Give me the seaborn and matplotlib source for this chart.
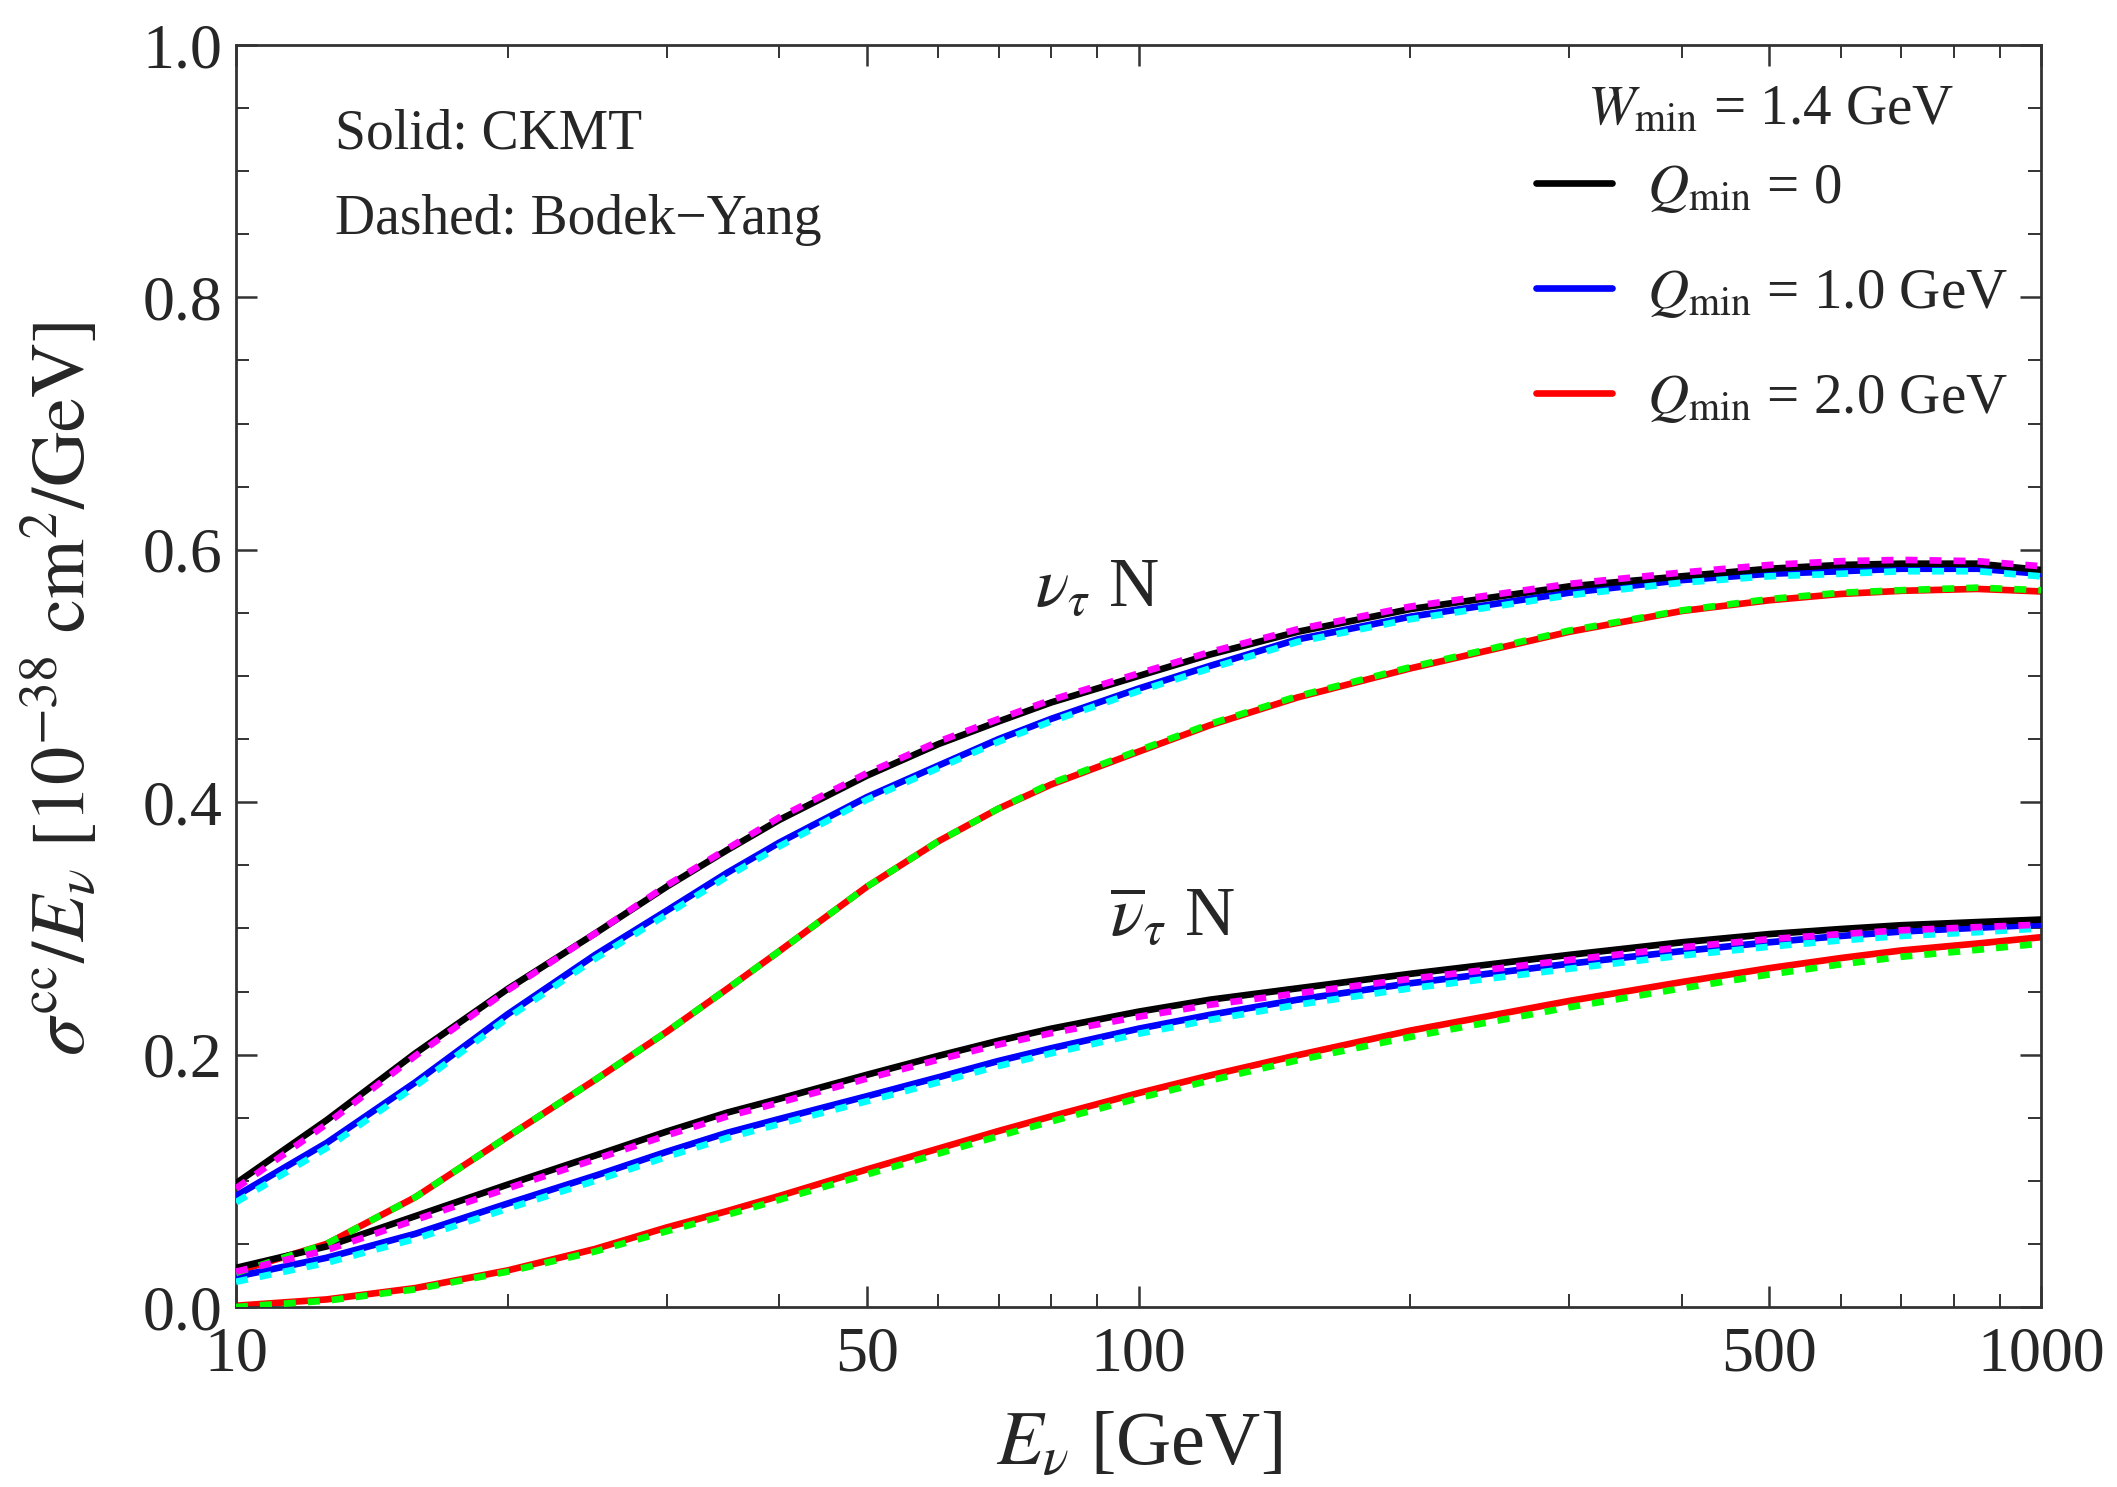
import numpy as np
import pandas as pd
import matplotlib
matplotlib.use("Agg")
import matplotlib.pyplot as plt
from matplotlib.lines import Line2D
from matplotlib.ticker import FixedLocator, NullFormatter
import seaborn as sns

# Neutrino energy grid [GeV]
energy = [10, 12.6, 15.8, 20, 25, 30, 35, 40, 50, 60, 70, 80, 100, 120, 150,
          200, 300, 400, 500, 600, 700, 850, 1000]

# sigma^cc / E_nu [1e-38 cm^2/GeV] -- CKMT structure functions (solid)
ckmt_nu_q0 = [0.098, 0.148, 0.201, 0.252, 0.296, 0.333, 0.362, 0.386, 0.421, 0.446, 0.464, 0.479,
              0.500, 0.517, 0.535, 0.553, 0.571, 0.579, 0.585, 0.588, 0.589, 0.589, 0.584]
ckmt_nu_q1 = [0.088, 0.130, 0.178, 0.232, 0.279, 0.314, 0.344, 0.368, 0.404, 0.429, 0.450, 0.466,
              0.490, 0.508, 0.529, 0.547, 0.566, 0.576, 0.581, 0.583, 0.585, 0.585, 0.581]
ckmt_nu_q2 = [0.028, 0.050, 0.087, 0.135, 0.180, 0.218, 0.252, 0.282, 0.333, 0.369, 0.395, 0.414,
              0.440, 0.461, 0.483, 0.506, 0.535, 0.5515, 0.560, 0.565, 0.5675, 0.569, 0.567]
ckmt_nub_q0 = [0.031, 0.048, 0.072, 0.097, 0.120, 0.139, 0.154, 0.165, 0.184, 0.199, 0.211, 0.2205,
               0.234, 0.2435, 0.2525, 0.264, 0.279, 0.289, 0.2955, 0.2995, 0.3025, 0.305, 0.307]
ckmt_nub_q1 = [0.024, 0.039, 0.058, 0.082, 0.104, 0.123, 0.138, 0.149, 0.167, 0.182, 0.195, 0.205,
               0.2205, 0.2315, 0.2435, 0.2565, 0.272, 0.282, 0.289, 0.294, 0.2975, 0.3005, 0.303]
ckmt_nub_q2 = [0.001, 0.006, 0.015, 0.029, 0.046, 0.063, 0.076, 0.088, 0.109, 0.1255, 0.1395, 0.151,
               0.1695, 0.1835, 0.1995, 0.219, 0.2425, 0.2575, 0.2685, 0.2765, 0.2825, 0.288, 0.293]

# Bodek-Yang structure functions (dashed)
by_nu_q0 = [0.094, 0.145, 0.199, 0.251, 0.296, 0.334, 0.363, 0.388, 0.423, 0.448, 0.466, 0.481,
            0.502, 0.519, 0.537, 0.555, 0.573, 0.582, 0.588, 0.591, 0.592, 0.591, 0.587]
by_nu_q1 = [0.083, 0.126, 0.175, 0.229, 0.276, 0.311, 0.341, 0.365, 0.402, 0.427, 0.448, 0.464,
            0.488, 0.506, 0.527, 0.545, 0.564, 0.574, 0.579, 0.581, 0.583, 0.583, 0.579]
by_nu_q2 = [0.027, 0.050, 0.087, 0.135, 0.180, 0.218, 0.252, 0.282, 0.333, 0.369, 0.395, 0.415,
            0.441, 0.462, 0.484, 0.507, 0.536, 0.552, 0.561, 0.566, 0.568, 0.570, 0.568]
by_nub_q0 = [0.028, 0.045, 0.069, 0.094, 0.117, 0.136, 0.151, 0.162, 0.181, 0.196, 0.208, 0.217,
             0.230, 0.2395, 0.2485, 0.260, 0.275, 0.285, 0.2915, 0.2955, 0.2985, 0.301, 0.303]
by_nub_q1 = [0.020, 0.035, 0.054, 0.078, 0.100, 0.119, 0.134, 0.145, 0.163, 0.178, 0.191, 0.201,
             0.2165, 0.2275, 0.2395, 0.2525, 0.268, 0.2785, 0.2855, 0.2905, 0.294, 0.297, 0.300]
by_nub_q2 = [0.000, 0.005, 0.014, 0.028, 0.044, 0.060, 0.073, 0.085, 0.105, 0.1215, 0.1355, 0.147,
             0.1655, 0.1795, 0.1955, 0.214, 0.2375, 0.2525, 0.2635, 0.2715, 0.2775, 0.283, 0.288]

q_labels = [r"$Q_{\rm min}$ = 0", r"$Q_{\rm min}$ = 1.0 GeV", r"$Q_{\rm min}$ = 2.0 GeV"]
solid_colors = ["#000000", "#0000ff", "#ff0000"]
dashed_colors = ["#ff00ff", "#00ffff", "#00ff00"]

sns.set_theme(style="ticks")
plt.rcParams["font.family"] = ["Liberation Serif", "DejaVu Serif"]
plt.rcParams["mathtext.fontset"] = "stix"
plt.rcParams["axes.linewidth"] = 1.0

fig = plt.figure(figsize=(2117 / 200, 1487 / 200), dpi=200)
ax = fig.add_axes([236 / 2117, 1 - 1307 / 1487, (2041 - 236) / 2117, (1307 - 45) / 1487])

lw = 2.4
solids = [ckmt_nu_q0, ckmt_nu_q1, ckmt_nu_q2, ckmt_nub_q0, ckmt_nub_q1, ckmt_nub_q2]
dashed = [by_nu_q0, by_nu_q1, by_nu_q2, by_nub_q0, by_nub_q1, by_nub_q2]

for i, ys in enumerate(solids):
    sns.lineplot(x=energy, y=ys, color=solid_colors[i % 3], lw=lw, ax=ax,
                 estimator=None, sort=False, zorder=2 + (2 - i % 3))
for i, ys in enumerate(dashed):
    sns.lineplot(x=energy, y=ys, color=dashed_colors[i % 3], lw=lw, ax=ax,
                 estimator=None, sort=False, zorder=5 + (2 - i % 3))
    ax.lines[-1].set_dashes((1.8, 1.8))

ax.set_xscale("log")
ax.set_xlim(10, 1000)
ax.set_ylim(0, 1.0)

ax.xaxis.set_major_locator(FixedLocator([10, 50, 100, 500, 1000]))
ax.set_xticklabels(["10", "50", "100", "500", "1000"])
ax.xaxis.set_minor_locator(FixedLocator([20, 30, 40, 60, 70, 80, 90, 200, 300, 400, 600, 700, 800, 900]))
ax.xaxis.set_minor_formatter(NullFormatter())
ax.set_yticks([0.0, 0.2, 0.4, 0.6, 0.8, 1.0])
ax.set_yticklabels(["0.0", "0.2", "0.4", "0.6", "0.8", "1.0"])
ax.yaxis.set_minor_locator(FixedLocator(np.arange(0.05, 1.0, 0.05)))

ax.tick_params(which="both", direction="in", top=True, right=True, color="#333333")
ax.tick_params(which="major", length=7.5, width=0.9, labelsize=23)
ax.tick_params(which="minor", length=4.8, width=0.7)
ax.tick_params(axis="y", which="major", pad=5)
ax.tick_params(axis="x", which="major", pad=7)
for s in ax.spines.values():
    s.set_color("#333333")
    s.set_visible(True)

ax.set_xlabel(r"$E_\nu$ [GeV]", fontsize=27.5, labelpad=10)
ax.set_ylabel(r"$\sigma^{\rm cc}/E_\nu\ [10^{-38}\ {\rm cm}^2/{\rm GeV}]$", fontsize=27.5, labelpad=7)
ax.yaxis.set_label_coords(-0.075, 0.49)

ax.text(0.055, 0.918, "Solid: CKMT", transform=ax.transAxes, fontsize=20, va="baseline")
ax.text(0.055, 0.850, "Dashed: Bodek\u2212Yang", transform=ax.transAxes, fontsize=20, va="baseline")

ax.text(90, 0.555, r"$\nu_\tau$ N", fontsize=25, ha="center", va="baseline")
ax.text(109, 0.294, r"$\overline{\nu}_\tau$ N", fontsize=25, ha="center", va="baseline")

ax.text(0.850, 0.937, r"$W_{\rm min}$ = 1.4 GeV", transform=ax.transAxes, fontsize=20.5,
        ha="center", va="baseline")
handles = [Line2D([], [], color=c, lw=2.4) for c in solid_colors]
ax.legend(handles, q_labels, loc="center left", bbox_to_anchor=(0.720, 0.803),
          frameon=False, fontsize=20.5, handlelength=1.35, handletextpad=0.6,
          labelspacing=0.93, borderaxespad=0.0, borderpad=0.0)

fig.savefig("out.png", dpi=200, facecolor="white")
